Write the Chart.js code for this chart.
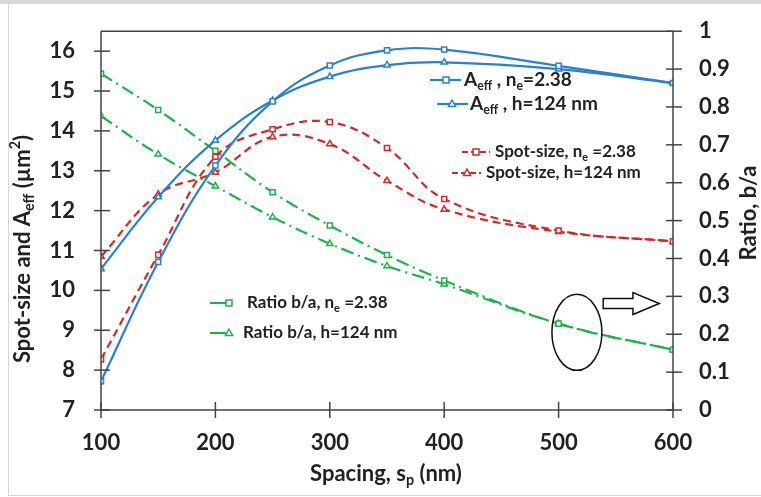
<!DOCTYPE html>
<html>
<head>
<meta charset="utf-8">
<script src="https://cdn.jsdelivr.net/npm/chart.js@4/dist/chart.umd.min.js"></script>
<style>
  html, body { margin: 0; padding: 0; background: #fff; }
  #wrap { position: relative; width: 761px; height: 497px; overflow: hidden; }
  #band { position: absolute; left: 0; top: 0; width: 761px; height: 4px; background: #d9d9d9; }
  #card { position: absolute; left: 8px; top: 4px; width: 760px; height: 491px;
          border-left: 1px solid #d6d6d6; border-bottom: 1px solid #d6d6d6; }
  canvas { position: absolute; left: 0; top: 0; }
</style>
</head>
<body>
<div id="wrap">
  <div id="band"></div>
  <div id="card"></div>
  <canvas id="myChart" width="761" height="497"></canvas>
</div>
<script>
// spacing s_p (nm)
const spacing = [100, 150, 200, 250, 300, 350, 400, 500, 600];
// A_eff (um^2)
const aeffNe = [7.72, 10.71, 13.13, 14.74, 15.64, 16.02, 16.04, 15.63, 15.2];
const aeffH = [10.54, 12.34, 13.76, 14.76, 15.36, 15.65, 15.72, 15.55, 15.2];
// spot-size
const spotNe = [8.27, 10.89, 13.35, 14.04, 14.22, 13.57, 12.29, 11.5, 11.23];
const spotH = [10.85, 12.41, 12.96, 13.85, 13.67, 12.75, 12.03, 11.47, 11.23];
// ratio b/a (right axis)
const ratioNe = [0.888, 0.792, 0.684, 0.575, 0.487, 0.409, 0.342, 0.228, 0.159];
const ratioH = [0.776, 0.675, 0.591, 0.509, 0.439, 0.380, 0.332, 0.228, 0.159];

const xTicks = [100, 200, 300, 400, 500, 600];
const leftTicks = [7, 8, 9, 10, 11, 12, 13, 14, 15, 16];
const rightTicks = [0, 0.1, 0.2, 0.3, 0.4, 0.5, 0.6, 0.7, 0.8, 0.9, 1];

const blue = '#2a7fcf';
const red = '#d02a2a';
const green = '#22b04c';
const dashRed = [8, 5];
const dashGreen = [13, 5, 2, 5];
const font = 'Lato, "Open Sans", sans-serif';

function pts(ys) {
    return spacing.map(function(x, i) { return {x: x, y: ys[i]}; });
}

function series(label, ys, color, axis, style, dash) {
    return {
        label: label,
        data: pts(ys),
        yAxisID: axis,
        borderColor: color,
        borderWidth: 2.2,
        borderDash: dash,
        tension: 0.4,
        pointStyle: style,
        pointRadius: 3.6,
        pointBorderWidth: 1.5,
        pointBorderColor: color,
        pointBackgroundColor: '#fff',
        fill: false
    };
}

// text with sub/superscripts
function drawRich(ctx, runs, x, y, size, align) {
    let w = 0;
    runs.forEach(function(r) {
        let s = r[1] ? size * 0.65 : size;
        ctx.font = 'bold ' + s + 'px ' + font;
        w += ctx.measureText(r[0]).width;
    });
    let cx = align === 'center' ? x - w / 2 : x;
    ctx.textBaseline = 'middle';
    ctx.textAlign = 'left';
    runs.forEach(function(r) {
        let s = r[1] ? size * 0.65 : size;
        let dy = r[1] === 'sub' ? size * 0.3 : (r[1] === 'sup' ? -size * 0.35 : 0);
        ctx.font = 'bold ' + s + 'px ' + font;
        ctx.fillText(r[0], cx, y + dy);
        cx += ctx.measureText(r[0]).width;
    });
}

function marker(ctx, style, x, y, color) {
    ctx.save();
    ctx.setLineDash([]);
    ctx.strokeStyle = color;
    ctx.fillStyle = '#fff';
    ctx.lineWidth = 1.5;
    ctx.beginPath();
    if (style === 'rect') {
        ctx.rect(x - 3, y - 3, 6, 6);
    } else {
        ctx.moveTo(x, y - 4);
        ctx.lineTo(x + 3.6, y + 2.5);
        ctx.lineTo(x - 3.6, y + 2.5);
        ctx.closePath();
    }
    ctx.fill();
    ctx.stroke();
    ctx.restore();
}

function legendItem(ctx, x1, x2, mx, y, color, dash, style, runs, tx, size) {
    ctx.save();
    ctx.strokeStyle = color;
    ctx.lineWidth = 2.2;
    ctx.setLineDash(dash);
    ctx.beginPath();
    ctx.moveTo(x1, y);
    ctx.lineTo(x2, y);
    ctx.stroke();
    ctx.restore();
    marker(ctx, style, mx, y, color);
    ctx.fillStyle = '#222';
    drawRich(ctx, runs, tx, y, size, 'left');
}

const extras = {
    id: 'extras',
    afterDraw: function(chart) {
        const ctx = chart.ctx;
        const a = chart.chartArea;
        const sx = chart.scales.x, yL = chart.scales.yL, yR = chart.scales.yR;
        ctx.save();
        ctx.strokeStyle = '#444';
        ctx.lineWidth = 1.5;
        function line(x1, y1, x2, y2) {
            ctx.beginPath(); ctx.moveTo(x1, y1); ctx.lineTo(x2, y2); ctx.stroke();
        }
        line(a.left, a.top, a.right, a.top);
        line(a.left, a.top, a.left, a.bottom);
        line(a.right, a.top, a.right, a.bottom);
        line(a.left, a.bottom, a.right, a.bottom);
        leftTicks.forEach(function(v) { let p = yL.getPixelForValue(v); line(a.left - 7, p, a.left + 9, p); });
        rightTicks.forEach(function(v) { let p = yR.getPixelForValue(v); line(a.right - 7, p, a.right + 9, p); });
        xTicks.forEach(function(v) { let p = sx.getPixelForValue(v); line(p, a.bottom - 8, p, a.bottom + 8); });

        // ellipse and arrow
        ctx.strokeStyle = '#111';
        ctx.lineWidth = 1.5;
        ctx.beginPath();
        ctx.ellipse(sx.getPixelForValue(516), yR.getPixelForValue(0.205), 25, 38, 0, 0, Math.PI * 2);
        ctx.stroke();
        let ax1 = sx.getPixelForValue(539), ax2 = sx.getPixelForValue(588), ah = sx.getPixelForValue(565);
        let ay = yR.getPixelForValue(0.281);
        ctx.fillStyle = '#fff';
        ctx.beginPath();
        ctx.moveTo(ax1, ay - 5);
        ctx.lineTo(ah, ay - 5);
        ctx.lineTo(ah, ay - 11);
        ctx.lineTo(ax2, ay);
        ctx.lineTo(ah, ay + 11);
        ctx.lineTo(ah, ay + 5);
        ctx.lineTo(ax1, ay + 5);
        ctx.closePath();
        ctx.fill();
        ctx.stroke();

        // axis titles
        ctx.fillStyle = '#222';
        drawRich(ctx, [['Spacing, s'], ['p', 'sub'], [' (nm)']], 386, 474, 22, 'center');
        ctx.save();
        ctx.translate(23, 249);
        ctx.rotate(-Math.PI / 2);
        drawRich(ctx, [['Spot-size and A'], ['eff', 'sub'], [' (\u00b5m'], ['2', 'sup'], [')']], 0, 0, 22, 'center');
        ctx.restore();
        ctx.save();
        ctx.translate(749, 213);
        ctx.rotate(-Math.PI / 2);
        drawRich(ctx, [['Ratio, b/a']], 0, 0, 22, 'center');
        ctx.restore();

        // legends
        legendItem(ctx, 430, 461, 446, 80, blue, [], 'rect', [['A', null], ['eff', 'sub'], [' , n'], ['e', 'sub'], ['=2.38']], 464, 19);
        legendItem(ctx, 437, 468, 452, 104, blue, [], 'triangle', [['A', null], ['eff', 'sub'], [' , h=124 nm']], 470, 19);
        legendItem(ctx, 462, 490, 476, 152, red, [6, 3], 'rect', [['Spot-size, n'], ['e', 'sub'], [' =2.38']], 495, 17);
        legendItem(ctx, 452, 481, 467, 173, red, [6, 3], 'triangle', [['Spot-size, h=124 nm']], 486, 17);
        legendItem(ctx, 210, 226, 229, 303, green, [], 'rect', [['Ratio b/a, n'], ['e', 'sub'], [' =2.38']], 247, 17);
        legendItem(ctx, 210, 226, 229, 333, green, [], 'triangle', [['Ratio b/a, h=124 nm']], 243, 17);
        ctx.restore();
    }
};

function makeChart() {
    let myChart = document.getElementById('myChart').getContext('2d');
    let tickFont = {family: font, size: 22, weight: 'bold'};
    new Chart(myChart, {
        type: 'line',
        data: {
            datasets: [
                series('Aeff, ne=2.38', aeffNe, blue, 'yL', 'rect', []),
                series('Aeff, h=124 nm', aeffH, blue, 'yL', 'triangle', []),
                series('Spot-size, ne=2.38', spotNe, red, 'yL', 'rect', dashRed),
                series('Spot-size, h=124 nm', spotH, red, 'yL', 'triangle', dashRed),
                series('Ratio b/a, ne=2.38', ratioNe, green, 'yR', 'rect', dashGreen),
                series('Ratio b/a, h=124 nm', ratioH, green, 'yR', 'triangle', dashGreen)
            ]
        },
        options: {
            responsive: false,
            animation: false,
            layout: {padding: {top: 15, left: 0, right: 0, bottom: 0}},
            plugins: {legend: {display: false}, tooltip: {enabled: false}},
            scales: {
                x: {
                    type: 'linear', min: 100, max: 600,
                    grid: {display: false}, border: {display: false},
                    afterBuildTicks: function(s) { s.ticks = xTicks.map(function(v) { return {value: v}; }); },
                    afterFit: function(s) { s.height = 87; },
                    ticks: {font: tickFont, color: '#222', padding: 12}
                },
                yL: {
                    type: 'linear', position: 'left', min: 7, max: 16.5,
                    grid: {display: false}, border: {display: false},
                    afterBuildTicks: function(s) { s.ticks = leftTicks.map(function(v) { return {value: v}; }); },
                    afterFit: function(s) { s.width = 101; },
                    ticks: {font: tickFont, color: '#222', padding: 18}
                },
                yR: {
                    type: 'linear', position: 'right', min: 0, max: 1,
                    grid: {display: false}, border: {display: false},
                    afterBuildTicks: function(s) { s.ticks = rightTicks.map(function(v) { return {value: v}; }); },
                    afterFit: function(s) { s.width = 88; },
                    ticks: {font: tickFont, color: '#222', padding: 18,
                        callback: function(v) { return String(Math.round(v * 10) / 10); }}
                }
            }
        },
        plugins: [extras]
    });
}

makeChart();
</script>
</body>
</html>
